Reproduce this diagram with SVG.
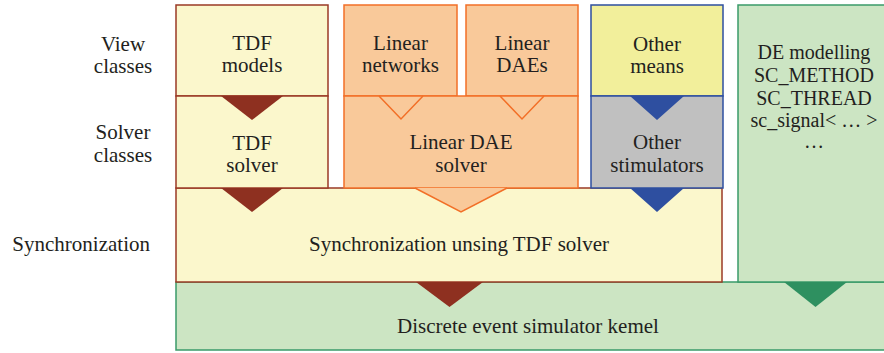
<svg xmlns="http://www.w3.org/2000/svg" width="884" height="353" viewBox="0 0 884 353">
<style>
text{font-family:'Liberation Serif','Times New Roman','DejaVu Serif',serif;font-size:21px;fill:#231f20;text-anchor:middle}
.sm{font-size:20px}
.tdf{fill:#fbf7cc;stroke:#9b3a26;stroke-width:1.5}
.lin{fill:#f9c99a;stroke:#f26f27;stroke-width:1.5}
.oth{fill:#f2ef9b;stroke:#2e4fa0;stroke-width:1.5}
.sim{fill:#c0c0c0;stroke:#2e4fa0;stroke-width:1.5}
.de{fill:#cce5c3;stroke:#3a9a6a;stroke-width:1.5}
.red{fill:#8e3020}
.blue{fill:#2e4fa0}
.green{fill:#2e9060}
.olin{fill:none;stroke:#f26f27;stroke-width:1.5}
.ofill{fill:#f9c99a;stroke:#f26f27;stroke-width:1.5}
</style>
<rect width="884" height="353" fill="#ffffff"/>
<g id="labels">
<text x="123" y="51">View</text>
<text x="123" y="73">classes</text>
<text x="123" y="139">Solver</text>
<text x="123" y="162">classes</text>
<text x="150" y="251" style="text-anchor:end">Synchronization</text>
</g>
<g id="kernel">
<rect class="de" x="176" y="282" width="710" height="68"/>
<text x="528" y="333">Discrete event simulator kemel</text>
</g>
<g id="de-modelling">
<rect class="de" x="738" y="5" width="148" height="277"/>
<text class="sm" x="814" y="59">DE modelling</text>
<text class="sm" x="814" y="82">SC_METHOD</text>
<text class="sm" x="814" y="105">SC_THREAD</text>
<text class="sm" x="814" y="127">sc_signal&lt; … &gt;</text>
<text class="sm" x="814" y="148">…</text>
</g>
<g id="sync">
<rect class="tdf" x="176" y="188" width="546" height="94"/>
<text x="459" y="251">Synchronization unsing TDF solver</text>
</g>
<g id="tdf-models">
<rect class="tdf" x="176" y="5" width="152" height="91"/>
<text x="252" y="50">TDF</text>
<text x="252" y="72">models</text>
</g>
<g id="tdf-solver">
<rect class="tdf" x="176" y="96" width="152" height="92"/>
<text x="252" y="150">TDF</text>
<text x="252" y="172">solver</text>
</g>
<g id="linear-networks">
<rect class="lin" x="344" y="5" width="113" height="91"/>
<text x="400.5" y="50">Linear</text>
<text x="400.5" y="72">networks</text>
</g>
<g id="linear-daes">
<rect class="lin" x="466" y="5" width="112" height="91"/>
<text x="522" y="50">Linear</text>
<text x="522" y="72">DAEs</text>
</g>
<g id="linear-dae-solver">
<rect class="lin" x="344" y="96" width="234" height="92"/>
<text x="461" y="149">Linear DAE</text>
<text x="461" y="172">solver</text>
</g>
<g id="other-means">
<rect class="oth" x="591" y="5" width="132" height="91"/>
<text x="657" y="51">Other</text>
<text x="657" y="73">means</text>
</g>
<g id="other-stimulators">
<rect class="sim" x="591" y="96" width="132" height="92"/>
<text x="657" y="149">Other</text>
<text x="657" y="172">stimulators</text>
</g>
<g id="connectors">
<polygon class="red" points="221,96 283,96 252,120"/>
<polyline class="olin" points="379,96 401,119 423,96"/>
<polyline class="olin" points="500,96 522,119 544,96"/>
<polygon class="blue" points="630,96 684,96 657,120"/>
<polygon class="red" points="221,188 283,188 252,212"/>
<polyline class="ofill" points="415,188 461,212 507,188"/>
<polygon class="blue" points="630,188 684,188 657,212"/>
<polygon class="red" points="416,282 483,282 449.5,307"/>
<polygon class="green" points="784,282 847,282 815.5,307"/>
</g>
</svg>
